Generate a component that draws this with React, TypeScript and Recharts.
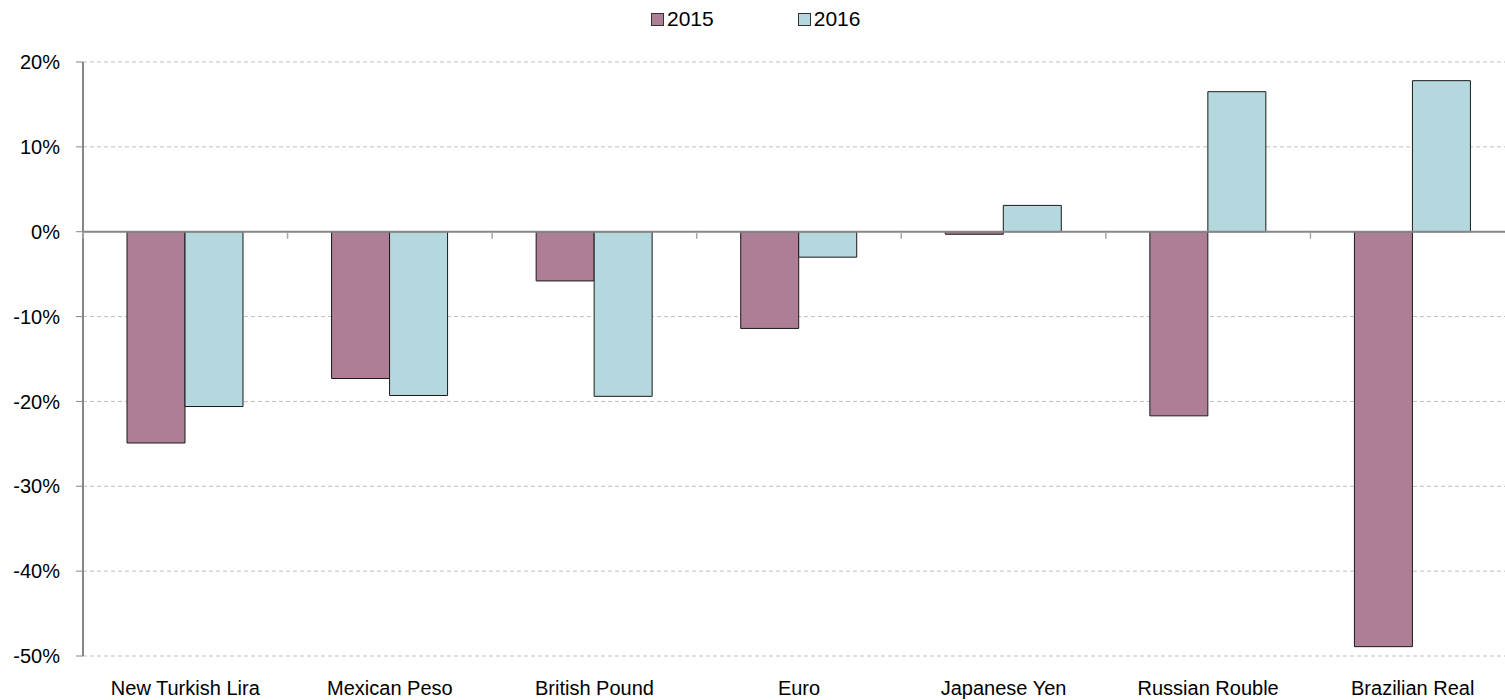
import { BarChart, Bar, XAxis, YAxis, CartesianGrid, ReferenceLine } from "recharts"

// Currencies and yearly change vs USD (%)
const categories = [
    "New Turkish Lira",
    "Mexican Peso",
    "British Pound",
    "Euro",
    "Japanese Yen",
    "Russian Rouble",
    "Brazilian Real",
]
const values2015 = [-24.9, -17.3, -5.8, -11.4, -0.3, -21.7, -48.9]
const values2016 = [-20.6, -19.3, -19.4, -3.0, 3.1, 16.5, 17.8]
const seriesNames = ["2015", "2016"]
const yTicks = [20, 10, 0, -10, -20, -30, -40, -50]

const colors = ["#AD7E95", "#B4D8DE"]
const FONT = "'Liberation Sans', Arial, sans-serif"

const data = categories.map((name, i) => ({
    name,
    [seriesNames[0]]: values2015[i],
    [seriesNames[1]]: values2016[i],
}))

// chart geometry
const CHART_W = 1515
const CHART_H = 700
const TOP = 62
const X_AXIS_H = 44
const Y_AXIS_W = 83
const PLOT_H = CHART_H - TOP - X_AXIS_H
const PLOT_W = CHART_W - Y_AXIS_W
const BAND = PLOT_W / categories.length
const ZERO_Y = TOP + (PLOT_H * 20) / 70

const CategoryTick = (props: any) => {
    const { x, payload, index } = props
    const left = x - BAND / 2
    return (
        <g>
            <line x1={left} x2={left} y1={ZERO_Y} y2={ZERO_Y + 7} stroke="#A6A6A6" strokeWidth={1.5} />
            {index === categories.length - 1 && (
                <line x1={x + BAND / 2} x2={x + BAND / 2} y1={ZERO_Y} y2={ZERO_Y + 7} stroke="#A6A6A6" strokeWidth={1.5} />
            )}
            <text x={x} y={TOP + PLOT_H + 39} textAnchor="middle" fill="#000" fontSize={20} fontFamily={FONT}>
                {payload.value}
            </text>
        </g>
    )
}

function Legend() {
    return (
        <div
            style={{
                position: "absolute",
                left: 651,
                top: 6,
                display: "flex",
                gap: 84,
                fontFamily: FONT,
                fontSize: 21,
                lineHeight: "26px",
            }}
        >
            {seriesNames.map((s, i) => (
                <div key={s} style={{ display: "flex", alignItems: "center", gap: 3 }}>
                    <span
                        style={{
                            width: 11,
                            height: 11,
                            background: colors[i],
                            border: "1px solid #333",
                            display: "inline-block",
                        }}
                    />
                    <span>{s}</span>
                </div>
            ))}
        </div>
    )
}

export default function App() {
    return (
        <div
            style={{
                position: "absolute",
                left: 0,
                top: 0,
                width: 1505,
                height: 700,
                overflow: "hidden",
                background: "#fff",
            }}
        >
            <Legend />
            <BarChart
                width={CHART_W}
                height={CHART_H}
                data={data}
                margin={{ top: TOP, right: 0, bottom: 0, left: 0 }}
                barCategoryGap={44}
                barGap={0}
            >
                <CartesianGrid vertical={false} stroke="#BFBFBF" strokeDasharray="4 3" />
                <XAxis
                    dataKey="name"
                    height={X_AXIS_H}
                    axisLine={false}
                    tickLine={false}
                    interval={0}
                    tick={<CategoryTick />}
                />
                <YAxis
                    width={Y_AXIS_W}
                    domain={[-50, 20]}
                    ticks={yTicks}
                    tickFormatter={(v) => `${v}%`}
                    axisLine={{ stroke: "#868686", strokeWidth: 2 }}
                    tickLine={{ stroke: "#868686" }}
                    tickSize={7}
                    tickMargin={16}
                    tick={{ fill: "#000", fontSize: 20, fontFamily: FONT }}
                />
                {seriesNames.map((s, i) => (
                    <Bar
                        key={s}
                        dataKey={s}
                        fill={colors[i]}
                        stroke="#1a1a1a"
                        strokeWidth={1}
                        isAnimationActive={false}
                    />
                ))}
                <ReferenceLine y={0} stroke="#868686" strokeWidth={2} />
            </BarChart>
        </div>
    )
}
